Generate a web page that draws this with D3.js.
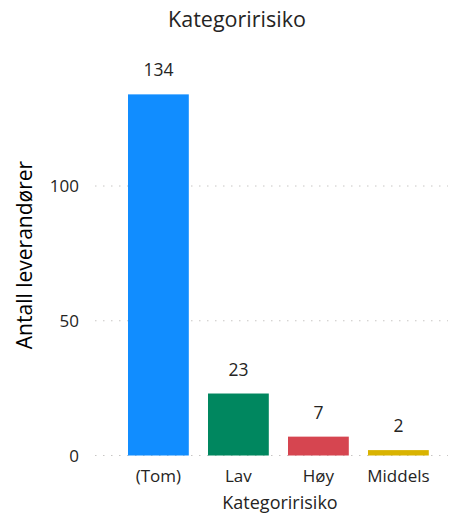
<!DOCTYPE html>
<html>
<head>
<meta charset="utf-8">
<script src="https://cdn.jsdelivr.net/npm/d3@7"></script>
<style>
  body { margin: 0; background: #fff; }
  text { font-family: "Open Sans", "Noto Sans", sans-serif; }
</style>
</head>
<body>
<div id="chart"></div>
<script>
var categories = ["(Tom)", "Lav", "Høy", "Middels"];
var values = [134, 23, 7, 2];
var barColors = ["#118DFF", "#00875F", "#D64550", "#D9B300"];
var yTicks = [0, 50, 100];

var width = 450;
var height = 515;

var svg = d3.select("#chart")
	.append("svg")
	.attr("width", width)
	.attr("height", height);

// scales
var x = d3.scaleBand()
	.domain(categories)
	.range([118.4, 438.4])
	.paddingInner(0.24)
	.paddingOuter(0.12);

var y = d3.scaleLinear()
	.domain([0, 100])
	.range([455.5, 186]);

// gridlines
svg.append("g")
	.selectAll("line")
	.data(yTicks)
	.enter().append("line")
	.attr("x1", 95)
	.attr("x2", 448)
	.attr("y1", function(d) { return y(d); })
	.attr("y2", function(d) { return y(d); })
	.style("stroke", "#c8c6c4")
	.style("stroke-width", 1)
	.style("stroke-dasharray", "1.5,6.5");

// y axis tick labels
var yAxis = d3.axisLeft(y).tickValues(yTicks).tickSize(0).tickPadding(0);
var yg = svg.append("g")
	.attr("transform", "translate(79,0)")
	.call(yAxis);
yg.select(".domain").remove();
yg.selectAll("text")
	.style("font-size", "17px")
	.style("fill", "#252423")
	.attr("dy", "0.35em");

// bars
svg.append("g")
	.selectAll("rect")
	.data(values)
	.enter().append("rect")
	.attr("x", function(d, i) { return x(categories[i]); })
	.attr("y", function(d) { return y(d); })
	.attr("width", x.bandwidth())
	.attr("height", function(d) { return y(0) - y(d); })
	.style("fill", function(d, i) { return barColors[i]; });

// value labels
svg.append("g")
	.selectAll("text")
	.data(values)
	.enter().append("text")
	.attr("x", function(d, i) { return x(categories[i]) + x.bandwidth() / 2; })
	.attr("y", function(d) { return y(d) - 18; })
	.attr("text-anchor", "middle")
	.style("font-size", "17.5px")
	.style("fill", "#252423")
	.text(function(d) { return d; });

// x axis labels
var xAxis = d3.axisBottom(x).tickSize(0).tickPadding(0);
var xg = svg.append("g")
	.attr("transform", "translate(0,476)")
	.call(xAxis);
xg.select(".domain").remove();
xg.selectAll("text")
	.attr("dy", "0.35em")
	.attr("y", 0)
	.style("font-size", "17px")
	.style("fill", "#252423");

// titles
svg.append("text")
	.attr("x", 237)
	.attr("y", 27)
	.attr("text-anchor", "middle")
	.style("font-size", "21.5px")
	.style("fill", "#252423")
	.text("Kategoririsiko");

svg.append("text")
	.attr("x", 280)
	.attr("y", 509)
	.attr("text-anchor", "middle")
	.style("font-size", "18px")
	.style("fill", "#252423")
	.text("Kategoririsiko");

svg.append("text")
	.attr("transform", "translate(32,255) rotate(-90)")
	.attr("text-anchor", "middle")
	.style("font-size", "21px")
	.style("fill", "#000")
	.text("Antall leverandører");
</script>
</body>
</html>
